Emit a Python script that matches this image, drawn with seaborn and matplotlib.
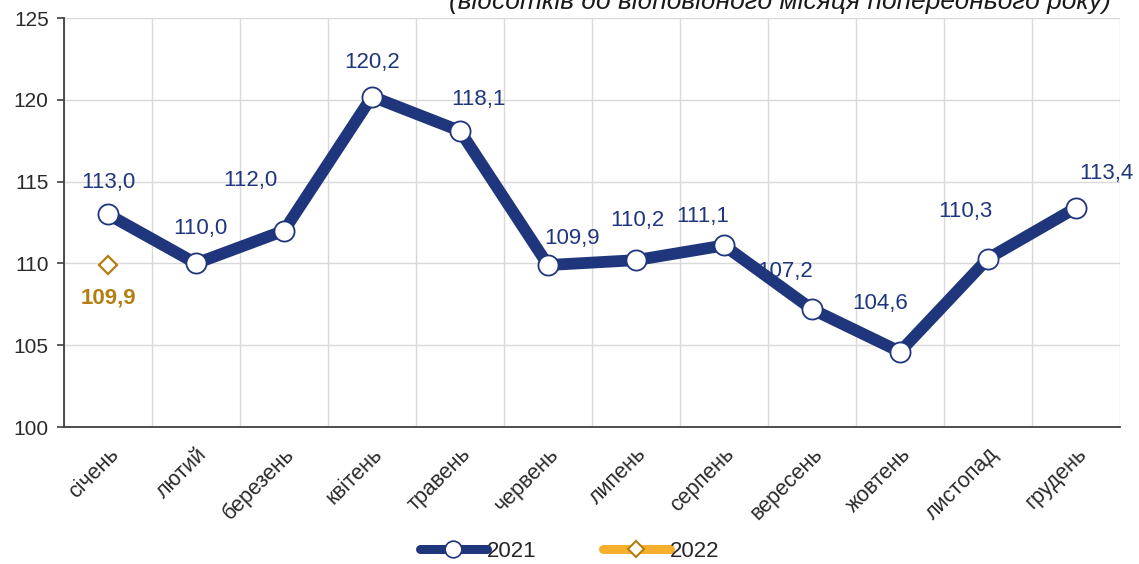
import matplotlib
matplotlib.use("Agg")
import matplotlib.pyplot as plt
import seaborn as sns
import pandas as pd
from matplotlib.lines import Line2D

# data
months = ["січень", "лютий", "березень", "квітень", "травень", "червень",
          "липень", "серпень", "вересень", "жовтень", "листопад", "грудень"]
values_2021 = [113.0, 110.0, 112.0, 120.2, 118.1, 109.9, 110.2, 111.1, 107.2, 104.6, 110.3, 113.4]
months_2022 = ["січень"]
values_2022 = [109.9]
title = "(відсотків до відповідного місяця попереднього року)"

# label offsets in pixels (dx, dy) relative to the point
label_offsets = [(0, 32), (4, 35), (-34, 50), (0, 34), (18, 31), (24, 27),
                 (1, 40), (-21, 29), (-27, 38), (-20, 48), (-23, 47), (30, 34)]

NAVY = "#1F367D"
GOLD = "#F5AF2C"
BROWN = "#B47E10"

sns.set_theme(style="white")
plt.rcParams["font.family"] = ["Liberation Sans", "DejaVu Sans"]

df = pd.DataFrame({"month": months, "value": values_2021})
df["pos"] = range(len(months))

fig = plt.figure(figsize=(11.39, 5.64), dpi=100)
ax = fig.add_axes([0.0562, 0.2429, 0.9271, 0.7251])

sns.lineplot(data=df, x="pos", y="value", ax=ax, color=NAVY, linewidth=8.5,
             marker="o", markersize=14.5, markerfacecolor="white",
             markeredgecolor=NAVY, markeredgewidth=1.3, zorder=3)

pos22 = [months.index(m) for m in months_2022]
ax.plot(pos22, values_2022, linestyle="none", marker="D", markersize=9.5,
        markerfacecolor="white", markeredgecolor=BROWN, markeredgewidth=1.6, zorder=4)

px = 72 / 100
for i, (v, (dx, dy)) in enumerate(zip(values_2021, label_offsets)):
    ax.annotate(f"{v:.1f}".replace(".", ","), (i, v), xytext=(dx * px, dy * px),
                textcoords="offset points", ha="center", va="center",
                fontsize=16, color=NAVY, zorder=5)
for p, v in zip(pos22, values_2022):
    ax.annotate(f"{v:.1f}".replace(".", ","), (p, v), xytext=(0, -33 * px),
                textcoords="offset points", ha="center", va="center",
                fontsize=16, color=BROWN, fontweight="bold", zorder=5)

ax.set_xlim(-0.5, len(months) - 0.5)
ax.set_ylim(100, 125)
ax.set_yticks([100, 105, 110, 115, 120, 125])
ax.set_xticks(range(len(months)))
ax.set_xticklabels(months, rotation=45, ha="right", rotation_mode="anchor")
ax.set_xticks([i - 0.5 for i in range(len(months) + 1)], minor=True)
ax.tick_params(axis="x", which="major", length=0, pad=12, labelsize=15.5, labelcolor="#2a2a2a")
ax.tick_params(axis="x", which="minor", length=5, width=1.2, color="#404040", direction="out")
ax.tick_params(axis="y", length=5, width=1.2, color="#404040", labelsize=15, labelcolor="#2a2a2a", left=True, pad=6)
ax.grid(True, axis="y", color="#D9D9D9", linewidth=1)
ax.grid(True, axis="x", which="minor", color="#D9D9D9", linewidth=1)
ax.set_xlabel("")
ax.set_ylabel("")
for s in ["top", "right"]:
    ax.spines[s].set_visible(False)
for s in ["left", "bottom"]:
    ax.spines[s].set_color("#404040")
    ax.spines[s].set_linewidth(1.3)

# title is cut at the top edge, as in the source image
fig.text(0.975, 1 - 9 / 564, title, ha="right", va="baseline", fontsize=19,
         style="italic", color="#1a1a1a")

handles = [
    Line2D([], [], color=NAVY, linewidth=6.5, marker="o", markersize=12,
           markerfacecolor="white", markeredgecolor=NAVY, markeredgewidth=1.2),
    Line2D([], [], color=GOLD, linewidth=6.5, marker="D", markersize=8.5,
           markerfacecolor="white", markeredgecolor=BROWN, markeredgewidth=1.5),
]
fig.legend(handles, ["2021", "2022"], loc="center", bbox_to_anchor=(0.5, 0.022),
           ncol=2, frameon=False, fontsize=16, handlelength=3.0,
           handletextpad=0.0, columnspacing=3.0)

fig.savefig("out.png", dpi=100)
